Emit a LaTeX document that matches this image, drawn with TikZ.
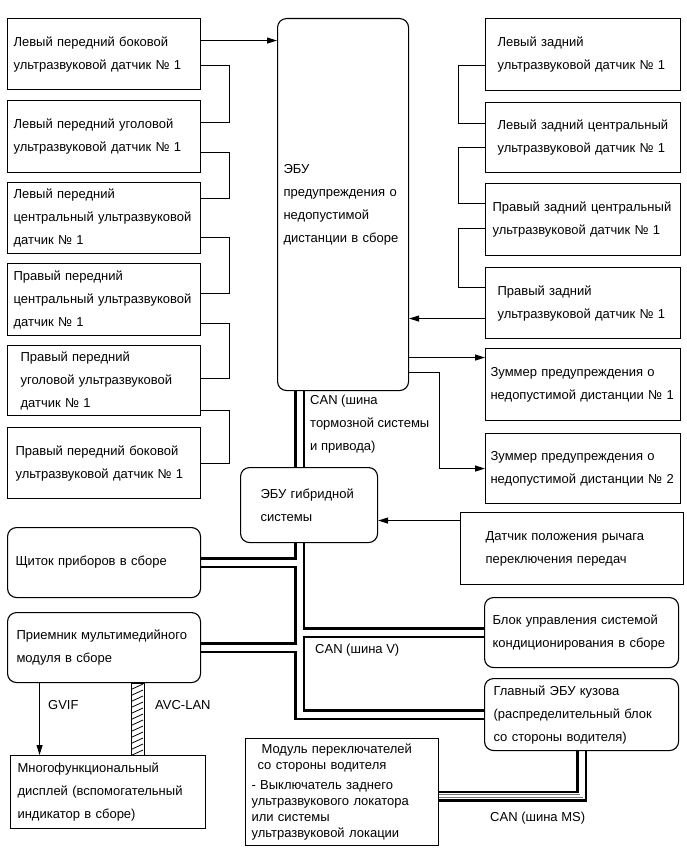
\documentclass[tikz,border=0pt]{standalone}
\usepackage{fontspec}
\setmainfont{Liberation Sans}
\usetikzlibrary{arrows.meta,backgrounds}

\begin{document}
\begin{tikzpicture}[x=1pt, y=-1pt, >={Triangle[length=10pt,width=6pt]},
    every node/.style={font=\fontsize{13}{23}\selectfont},
    blok/.style={draw, line width=1.1pt, anchor=north west, align=left, inner ysep=0pt},
    modul/.style={blok, rounded corners=9pt},
    datchik/.style={blok, minimum width=193pt, minimum height=71pt, inner xsep=6pt, text width=181pt},
    zadn/.style={blok, minimum width=195pt, minimum height=71pt, inner xsep=12pt, text width=171pt},
    provod/.style={line width=1pt},
    shina/.style={draw=white, line width=2.4pt,
        preaction={draw=black, line width=11pt},
        preaction={draw=white, line width=6pt},
        preaction={draw=black!55, line width=3.6pt}},
    podpis/.style={anchor=west, inner sep=0pt, align=left}]

    \useasboundingbox (0,0) rectangle (687,853);

    % Передние датчики
    \node[datchik] (lf1) at (7,18) {Левый передний боковой\\ультразвуковой датчик № 1};
    \node[datchik, minimum height=72pt] (lf2) at (7,100) {Левый передний уголовой\\ультразвуковой датчик № 1};
    \node[datchik] (lf3) at (7,182) {Левый передний\\центральный ультразвуковой\\датчик № 1};
    \node[datchik, minimum height=72pt] (rf3) at (7,263) {Правый передний\\центральный ультразвуковой\\датчик № 1};
    \node[datchik, minimum height=70pt, inner xsep=13pt, text width=167pt] (rf2) at (7,345) {Правый передний\\уголовой ультразвуковой\\датчик № 1};
    \node[datchik, inner xsep=8pt, text width=177pt] (rf1) at (7,427) {Правый передний боковой\\ультразвуковой датчик № 1};

    % ЭБУ предупреждения
    \node[modul, minimum width=131pt, minimum height=372pt, inner xsep=6pt, text width=119pt] (ecu) at (277,18) {ЭБУ\\предупреждения о\\недопустимой\\дистанции в сборе};

    % Задние датчики
    \node[zadn, minimum height=72pt] (lr1) at (485,18) {Левый задний\\ультразвуковой датчик № 1};
    \node[zadn, minimum height=70pt] (lr2) at (485,102) {Левый задний центральный\\ультразвуковой датчик № 1};
    \node[zadn, minimum height=72pt, inner xsep=7pt, text width=181pt] (rr2) at (485,183) {Правый задний центральный\\ультразвуковой датчик № 1};
    \node[zadn] (rr1) at (485,267) {Правый задний\\ультразвуковой датчик № 1};

    % Зуммеры
    \node[zadn, minimum height=72pt, inner xsep=5pt, text width=185pt] (bz1) at (485,348) {Зуммер предупреждения о\\недопустимой дистанции № 1};
    \node[zadn, minimum height=70pt, inner xsep=5pt, text width=185pt] (bz2) at (485,433) {Зуммер предупреждения о\\недопустимой дистанции № 2};

    % Остальные блоки
    \node[modul, minimum width=137pt, minimum height=75pt, inner xsep=20pt, text width=97pt] (hv) at (240,467) {ЭБУ гибридной\\системы};
    \node[blok, minimum width=223pt, minimum height=72pt, inner xsep=25pt, text width=173pt] (gear) at (460,512) {Датчик положения рычага\\переключения передач};
    \node[modul, minimum width=193pt, minimum height=70pt, inner xsep=8pt, text width=177pt] (meter) at (7,527) {Щиток приборов в сборе};
    \node[modul, minimum width=193pt, minimum height=70pt, inner xsep=9pt, text width=175pt] (radio) at (7,612) {Приемник мультимедийного\\модуля в сборе};
    \node[modul, minimum width=194pt, minimum height=70pt, inner xsep=8pt, text width=178pt] (ac) at (484,597) {Блок управления системой\\кондиционирования в сборе};
    \node[modul, minimum width=194pt, minimum height=72pt, inner xsep=9pt, text width=176pt] (body) at (484,678) {Главный ЭБУ кузова\\(распределительный блок\\со стороны водителя)};
    \node[blok, minimum width=195pt, minimum height=73pt, inner xsep=7pt, text width=181pt] (mfd) at (10,755) {Многофункциональный\\дисплей (вспомогательный\\индикатор в сборе)};
    \node[blok, minimum width=193pt, minimum height=107pt, inner xsep=6pt, text width=181pt,
        font=\fontsize{13}{16}\selectfont] (sw) at (245,738) {\hspace*{10pt}Модуль переключателей\\\hspace*{6pt}со стороны водителя\\[4pt]- Выключатель заднего\\ультразвукового локатора\\или системы\\ультразвуковой локации};

    % Провода передних датчиков
    \draw[provod, ->] ([yshift=13.5pt]lf1.east) -- ([yshift=13.5pt]lf1.east -| ecu.west);
    \draw[provod] ([yshift=-11.5pt]lf1.east) -- ++(28,0) |- ([yshift=14pt]lf2.east);
    \draw[provod] ([yshift=-16pt]lf2.east) -- ++(28,0) |- ([yshift=19.5pt]lf3.east);
    \draw[provod] ([yshift=-19.5pt]lf3.east) -- ++(28,0) |- ([yshift=6pt]rf3.east);
    \draw[provod] ([yshift=-24pt]rf3.east) -- ++(28,0) |- ([yshift=2pt]rf2.east);
    \draw[provod] ([yshift=-30pt]rf2.east) -- ++(28,0) |- (rf1.east);

    % Провода задних датчиков
    \draw[provod] ([yshift=-11pt]lr1.west) -- ++(-27,0) |- ([yshift=14pt]lr2.west);
    \draw[provod] ([yshift=-10pt]lr2.west) -- ++(-27,0) |- ([yshift=16pt]rr2.west);
    \draw[provod] ([yshift=-9pt]rr2.west) -- ++(-27,0) |- ([yshift=15.5pt]rr1.west);
    \draw[provod, ->] ([yshift=-15.5pt]rr1.west) -- ([yshift=-15.5pt]rr1.west -| ecu.east);

    % Зуммеры и датчик рычага
    \draw[provod, ->] ([yshift=27pt]bz1.west -| ecu.east) -- ([yshift=27pt]bz1.west);
    \draw[provod, ->] ([yshift=-168pt]ecu.east) -- ++(30,0) |- (bz2.west);
    \draw[provod, ->] ([yshift=28pt]gear.west) -- ([yshift=28pt]gear.west -| hv.east);

    % GVIF и AVC-LAN
    \draw[provod, ->] ([xshift=-64.5pt]radio.south) -- ([xshift=-64.5pt]radio.south |- mfd.north);
    \coordinate (avc1) at ([xshift=27pt]radio.south);
    \coordinate (avc2) at ([xshift=40pt]radio.south |- mfd.north);
    \draw[line width=0.8pt] (avc1) rectangle (avc2);
    \begin{scope}
        \clip (avc1) rectangle (avc2);
        \foreach \y in {684,690,...,762}
            \draw[line width=0.8pt] (130,\y) -- (143,\y-6);
    \end{scope}

    % Шины CAN
    \coordinate (busx) at ([xshift=-9.5pt]hv.south);
    \begin{scope}[on background layer]
        \draw[shina] ([xshift=-43.5pt]ecu.south) -- ([xshift=-9.5pt]hv.north)
            (busx) |- (body.west)
            (meter.east) -- (meter.east -| busx)
            (radio.east) -- (radio.east -| busx)
            (ac.west) -- (ac.west -| busx)
            (body.south) |- ([yshift=-4pt]sw.east);
    \end{scope}

    % Подписи
    \node[podpis, anchor=north west] (canbrake) at (310,395) {CAN (шина\\тормозной системы\\и привода)};
    \node[podpis] (canv) at (315,650) {CAN (шина V)};
    \node[podpis] (canms) at (490,818) {CAN (шина MS)};
    \node[podpis] (gvif) at (48,705) {GVIF};
    \node[podpis] (avclan) at (155,705) {AVC-LAN};
\end{tikzpicture}
\end{document}
